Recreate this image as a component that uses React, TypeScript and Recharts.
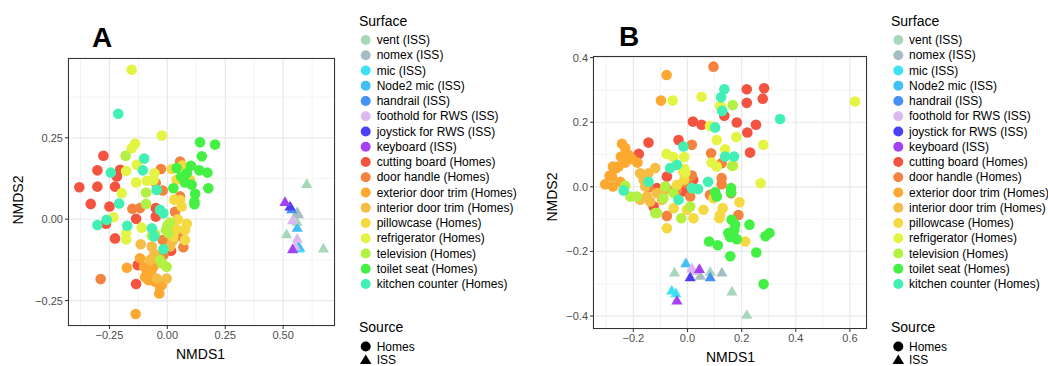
import React from "react"
import { ScatterChart, Scatter, XAxis, YAxis, CartesianGrid } from "recharts"

type Pt = [number, number]

const surfaces = [
  "vent (ISS)",
  "nomex (ISS)",
  "mic (ISS)",
  "Node2 mic (ISS)",
  "handrail (ISS)",
  "foothold for RWS (ISS)",
  "joystick for RWS (ISS)",
  "keyboard (ISS)",
  "cutting board (Homes)",
  "door handle (Homes)",
  "exterior door trim (Homes)",
  "interior door trim (Homes)",
  "pillowcase (Homes)",
  "refrigerator (Homes)",
  "television (Homes)",
  "toilet seat (Homes)",
  "kitchen counter (Homes)",
]

const surfaceColors = [
  "#a8d8bc", "#a5bec4", "#40e0f4", "#42bff4", "#4691f4", "#dbb9f0", "#4a40f4", "#a541f2",
  "#f4543f", "#f4833f", "#fca831", "#f5bd43", "#f5d942", "#e4f444", "#b2f042", "#43f043", "#43f0b3",
]

// source of each surface: ISS surfaces are drawn as triangles
const surfaceSource = surfaces.map((s) => (s.includes("(ISS)") ? "ISS" : "Homes"))

// ---------- panel A ----------
const aVent: Pt[] = [[0.602, 0.106], [0.515, -0.048], [0.674, -0.092], [0.56, -0.01]]
const aNomex: Pt[] = [[0.561, 0.02], [0.566, 0.013]]
const aMic: Pt[] = [[0.566, -0.092], [0.572, -0.09]]
const aNode2: Pt[] = [[0.561, -0.028], [0.566, -0.085]]
const aHandrail: Pt[] = [[0.537, 0.029]]
const aFoothold: Pt[] = [[0.541, -0.005], [0.561, -0.062], [0.553, -0.085]]
const aJoystick: Pt[] = [[0.53, 0.037]]
const aKeyboard: Pt[] = [[0.508, 0.051], [0.541, -0.094]]
const aCutting: Pt[] = [
  [-0.276, 0.195], [-0.302, 0.15], [-0.204, 0.152], [-0.218, 0.131], [-0.38, 0.098], [-0.302, 0.1],
  [-0.226, 0.1], [-0.331, 0.047], [-0.25, 0.039], [-0.05, 0.034], [-0.05, 0.008], [-0.135, 0.001],
  [-0.265, -0.014], [-0.226, -0.059], [0.016, -0.097], [-0.128, -0.141], [-0.135, -0.199],
]
const aDoor: Pt[] = [
  [-0.028, 0.154], [0.055, 0.177], [-0.05, 0.111], [-0.02, 0.088], [-0.151, 0.032], [-0.118, 0.034],
  [0.033, 0.023], [0.055, 0.07], [-0.02, -0.064], [0.062, -0.053], [0.069, -0.086], [-0.017, -0.11],
  [-0.288, -0.184],
]
const aExterior: Pt[] = [
  [-0.118, -0.12], [-0.1, -0.146], [-0.089, -0.166], [-0.06, -0.146], [-0.082, -0.187], [-0.096, -0.178],
  [-0.053, -0.192], [-0.032, -0.207], [-0.035, -0.228], [-0.024, -0.202], [-0.175, -0.149], [-0.137, -0.291],
  [-0.07, -0.16],
]
const aInterior: Pt[] = [
  [-0.067, -0.084], [-0.075, -0.125], [-0.056, -0.107], [0.012, -0.084], [0.023, -0.066], [-0.003, -0.182],
  [-0.046, -0.182], [-0.115, -0.077],
]
const aPillow: Pt[] = [
  [0.065, 0.165], [0.019, 0.154], [0.098, 0.121], [0.04, 0.121], [0.055, 0.059], [0.062, 0.039],
  [0.04, -0.031], [0.084, -0.014], [0.076, -0.033], [0.026, -0.053], [0.076, -0.064], [0.03, 0.06], [0.045, 0.0],
]
const aFridge: Pt[] = [
  [-0.154, 0.459], [-0.024, 0.257], [-0.139, 0.232], [-0.154, 0.218], [-0.178, 0.148], [-0.132, 0.167],
  [-0.197, 0.08], [-0.135, 0.113], [-0.089, 0.118], [-0.056, 0.141], [-0.233, 0.006], [-0.111, -0.026],
  [-0.178, -0.043], [-0.178, -0.062], [-0.06, 0.12],
]
const aTV: Pt[] = [
  [-0.18, 0.195], [-0.092, 0.082], [-0.092, 0.047], [-0.053, -0.046], [-0.006, -0.033], [0.012, -0.01],
  [0.004, -0.043], [-0.032, -0.125], [-0.003, -0.146], [-0.024, -0.135], [-0.067, -0.05], [0.0, -0.02],
]
const aToilet: Pt[] = [
  [0.141, 0.236], [0.206, 0.229], [0.149, 0.193], [0.102, 0.164], [0.04, 0.157], [0.084, 0.141],
  [0.138, 0.15], [0.173, 0.143], [0.076, 0.113], [0.105, 0.106], [0.177, 0.095], [0.12, 0.078],
  [0.117, 0.054], [0.117, 0.046], [0.026, 0.095], [0.06, 0.13],
]
const aKitchen: Pt[] = [
  [-0.212, 0.324], [-0.1, 0.186], [-0.244, 0.143], [-0.106, 0.15], [-0.046, 0.09], [-0.032, 0.029],
  [-0.017, 0.018], [-0.302, -0.018], [-0.262, -0.002], [-0.173, -0.02], [-0.067, -0.028], [-0.057, -0.053],
  [-0.017, -0.092], [-0.208, 0.048],
]

// ---------- panel B ----------
const bVent: Pt[] = [[-0.048, -0.267], [0.084, -0.265], [0.164, -0.326], [0.219, -0.398]]
const bNomex: Pt[] = [[0.047, -0.277], [0.127, -0.267]]
const bMic: Pt[] = [[-0.058, -0.323], [-0.043, -0.331]]
const bNode2: Pt[] = [[-0.006, -0.238]]
const bHandrail: Pt[] = [[0.084, -0.282]]
const bFoothold: Pt[] = [[0.016, -0.254], [0.022, -0.262]]
const bJoystick: Pt[] = [[0.01, -0.282]]
const bKeyboard: Pt[] = [[0.044, -0.256], [-0.039, -0.354]]
const bCutting: Pt[] = [
  [0.219, 0.302], [0.283, 0.305], [0.219, 0.26], [0.278, 0.273], [0.136, 0.22], [0.02, 0.202],
  [0.052, 0.192], [0.182, 0.199], [0.253, 0.192], [0.221, 0.168], [-0.033, 0.145], [-0.144, 0.137],
  [0.231, 0.106], [-0.18, 0.102], [-0.076, 0.032], [0.021, 0.022], [-0.113, -0.004], [-0.125, -0.061],
  [-0.015, -0.014],
]
const bDoor: Pt[] = [
  [0.096, 0.372], [0.016, 0.13], [0.087, 0.104], [0.016, 0.035], [-0.002, 0.016], [0.126, 0.073],
  [0.126, 0.027], [0.126, 0.008], [0.161, -0.02], [0.083, -0.025], [0.188, -0.087], [-0.076, -0.09],
  [-0.144, -0.002], [-0.076, -0.007], [-0.039, -0.009], [0.01, -0.03], [-0.006, 0.013],
]
const bExterior: Pt[] = [
  [-0.077, 0.346], [-0.098, 0.267], [-0.242, 0.133], [-0.23, 0.12], [-0.246, 0.094], [-0.218, 0.099],
  [-0.275, 0.063], [-0.255, 0.063], [-0.23, 0.075], [-0.185, 0.075], [-0.205, 0.086], [-0.288, 0.034],
  [-0.263, 0.058], [-0.279, 0.032], [-0.304, 0.008], [-0.248, 0.016], [-0.275, 0.001],
]
const bInterior: Pt[] = [
  [-0.175, 0.042], [-0.162, 0.022], [-0.144, 0.042], [-0.119, 0.058], [-0.156, 0.001], [-0.15, -0.03],
  [-0.175, -0.04], [-0.138, -0.045], [-0.094, -0.04], [-0.113, -0.019], [-0.089, -0.014],
]
const bPillow: Pt[] = [
  [0.096, -0.035], [0.192, -0.048], [0.13, -0.066], [0.12, -0.087], [0.118, -0.097], [0.213, -0.169],
  [-0.076, -0.128], [-0.051, -0.066], [-0.002, -0.071], [0.022, -0.097], [0.059, -0.071], [-0.039, 0.006],
  [-0.015, 0.047], [-0.012, 0.022],
]
const bFridge: Pt[] = [
  [-0.055, 0.267], [0.052, 0.279], [0.124, 0.248], [0.619, 0.264], [0.083, 0.188], [0.18, 0.154],
  [0.108, 0.145], [0.139, 0.116], [0.28, 0.13], [-0.077, 0.102], [-0.052, 0.092], [-0.012, 0.092],
  [-0.011, 0.055], [-0.008, 0.044], [0.089, 0.075], [0.108, 0.063], [0.169, 0.065], [0.27, 0.011],
  [0.12, 0.25],
]
const bTV: Pt[] = [
  [0.167, 0.253], [-0.023, -0.097], [0.01, -0.061], [-0.113, -0.081], [-0.23, 0.003], [-0.211, -0.03],
  [-0.187, -0.03], [-0.082, 0.001], [-0.089, -0.035], [-0.119, -0.081], [-0.052, -0.019], [0.165, 0.065],
]
const bToilet: Pt[] = [
  [0.161, -0.004], [0.161, -0.017], [0.102, -0.017], [0.108, -0.03], [0.163, -0.102], [0.176, -0.117],
  [0.173, -0.133], [0.229, -0.117], [0.151, -0.143], [0.157, -0.155], [0.182, -0.162], [0.17, -0.153],
  [0.08, -0.169], [0.112, -0.181], [0.303, -0.143], [0.288, -0.153], [0.158, -0.215], [0.254, -0.203],
  [0.281, -0.301],
]
const bKitchen: Pt[] = [
  [0.136, 0.302], [0.124, 0.277], [0.342, 0.21], [0.102, 0.184], [-0.015, 0.125], [0.139, 0.094],
  [0.172, 0.094], [-0.064, 0.058], [-0.039, 0.068], [0.039, -0.007], [0.076, 0.016], [-0.236, -0.011],
  [-0.144, 0.016], [-0.033, -0.04], [0.016, -0.004], [0.128, 0.235],
]

// same order as `surfaces`
const panelA = [aVent, aNomex, aMic, aNode2, aHandrail, aFoothold, aJoystick, aKeyboard,
  aCutting, aDoor, aExterior, aInterior, aPillow, aFridge, aTV, aToilet, aKitchen]
const panelB = [bVent, bNomex, bMic, bNode2, bHandrail, bFoothold, bJoystick, bKeyboard,
  bCutting, bDoor, bExterior, bInterior, bPillow, bFridge, bTV, bToilet, bKitchen]

// axes
const aXTicks = [-0.25, 0, 0.25, 0.5]
const aYTicks = [-0.25, 0, 0.25]
const aXMinor = [-0.375, -0.125, 0.125, 0.375, 0.625]
const aYMinor = [-0.125, 0.125, 0.375]
const bXTicks = [-0.2, 0, 0.2, 0.4, 0.6]
const bYTicks = [-0.4, -0.2, 0, 0.2, 0.4]
const bXMinor = [-0.3, -0.1, 0.1, 0.3, 0.5]
const bYMinor = [-0.3, -0.1, 0.1, 0.3]

const FONT = "'Liberation Sans', Arial, Helvetica, sans-serif"

const fmt = (digits: number) => (v: number) => {
  const s = Math.abs(v).toFixed(digits)
  return v < 0 ? `\u2212${s}` : s
}

function makeShape(color: string, source: string) {
  return (props: any) => {
    const { cx, cy } = props
    if (cx == null || cy == null) return <g />
    if (source === "ISS") {
      return (
        <polygon
          points={`${cx},${cy - 6.3} ${cx - 5.6},${cy + 3.4} ${cx + 5.6},${cy + 3.4}`}
          fill={color}
        />
      )
    }
    return <circle cx={cx} cy={cy} r={5.3} fill={color} />
  }
}

interface PanelProps {
  left: number
  width: number
  margin: { top: number; right: number; bottom: number; left: number }
  points: Pt[][]
  xDomain: [number, number]
  yDomain: [number, number]
  xTicks: number[]
  yTicks: number[]
  xMinor: number[]
  yMinor: number[]
  digits: number
}

function Panel({ left, width, margin, points, xDomain, yDomain, xTicks, yTicks, xMinor, yMinor, digits }: PanelProps) {
  const tickStyle = { fontSize: 11, fill: "#4d4d4d", fontFamily: FONT }
  // ISS points drawn last, like the original
  const order = surfaces.map((_, i) => i).sort((a, b) => (surfaceSource[a] === "ISS" ? 1 : 0) - (surfaceSource[b] === "ISS" ? 1 : 0))
  return (
    <div style={{ position: "absolute", left, top: 0 }}>
      <ScatterChart width={width} height={366} margin={margin}>
        <CartesianGrid stroke="#f3f3f3" strokeWidth={1} horizontalValues={yMinor} verticalValues={xMinor} />
        <CartesianGrid stroke="#e9e9e9" strokeWidth={1.2} />
        <XAxis
          type="number"
          dataKey="x"
          domain={xDomain}
          ticks={xTicks}
          allowDataOverflow
          height={30}
          axisLine={false}
          tickLine={{ stroke: "#333333" }}
          tickSize={3}
          tickMargin={2}
          tick={tickStyle}
          tickFormatter={fmt(digits)}
        />
        <YAxis
          type="number"
          dataKey="y"
          domain={yDomain}
          ticks={yTicks}
          allowDataOverflow
          width={40}
          axisLine={false}
          tickLine={{ stroke: "#333333" }}
          tickSize={3}
          tickMargin={2}
          tick={tickStyle}
          tickFormatter={fmt(digits)}
        />
        {order.map((i) => (
          <Scatter
            key={surfaces[i]}
            name={surfaces[i]}
            data={points[i].map(([x, y]) => ({ x, y }))}
            fill={surfaceColors[i]}
            shape={makeShape(surfaceColors[i], surfaceSource[i])}
            isAnimationActive={false}
          />
        ))}
      </ScatterChart>
      <div
        style={{
          position: "absolute",
          left: margin.left + 40,
          top: margin.top,
          width: width - margin.left - margin.right - 40,
          height: 366 - margin.top - margin.bottom - 30,
          border: "1px solid #333333",
          boxSizing: "border-box",
          pointerEvents: "none",
        }}
      />
    </div>
  )
}

function SurfaceLegend({ left, textX, dotX }: { left: number; textX: number; dotX: number }) {
  return (
    <svg width={190} height={366} style={{ position: "absolute", left, top: 0, fontFamily: FONT }}>
      <text x={9} y={25.5} fontSize={14} fill="#000">Surface</text>
      {surfaces.map((s, i) => {
        const cy = 40 + i * 15.25
        return (
          <g key={s}>
            <circle cx={dotX} cy={cy} r={5} fill={surfaceColors[i]} />
            <text x={textX} y={cy + 4.2} fontSize={12} fill="#000">{s}</text>
          </g>
        )
      })}
      <text x={9} y={332} fontSize={14} fill="#000">Source</text>
      <circle cx={dotX} cy={346.5} r={5} fill="#000" />
      <text x={textX} y={350.7} fontSize={12} fill="#000">Homes</text>
      <polygon points={`${dotX},${354.5} ${dotX - 5.8},${364} ${dotX + 5.8},${364}`} fill="#000" />
      <text x={textX} y={364} fontSize={12} fill="#000">ISS</text>
    </svg>
  )
}

export default function App() {
  const label = { position: "absolute" as const, fontFamily: FONT, color: "#000", lineHeight: 1, whiteSpace: "nowrap" as const }
  return (
    <div style={{ position: "absolute", left: 0, top: 0, width: 1048, height: 366, background: "#fff", overflow: "hidden" }}>
      <Panel
        left={0}
        width={345}
        margin={{ top: 58, right: 10, bottom: 10, left: 28 }}
        points={panelA}
        xDomain={[-0.429, 0.724]}
        yDomain={[-0.328, 0.495]}
        xTicks={aXTicks}
        yTicks={aYTicks}
        xMinor={aXMinor}
        yMinor={aYMinor}
        digits={2}
      />
      <Panel
        left={545}
        width={330}
        margin={{ top: 56, right: 8, bottom: 7, left: 8 }}
        points={panelB}
        xDomain={[-0.349, 0.663]}
        yDomain={[-0.44, 0.405]}
        xTicks={bXTicks}
        yTicks={bYTicks}
        xMinor={bXMinor}
        yMinor={bYMinor}
        digits={1}
      />

      <div style={{ ...label, left: 92, top: 24, fontSize: 28, fontWeight: "bold" }}>A</div>
      <div style={{ ...label, left: 619, top: 23, fontSize: 28, fontWeight: "bold" }}>B</div>

      <div style={{ ...label, left: 176, top: 347, fontSize: 14 }}>NMDS1</div>
      <div style={{ ...label, left: 706, top: 350, fontSize: 14 }}>NMDS1</div>
      <div style={{ ...label, left: -7, top: 193, fontSize: 14, transform: "rotate(-90deg)" }}>NMDS2</div>
      <div style={{ ...label, left: 527, top: 190, fontSize: 14, transform: "rotate(-90deg)" }}>NMDS2</div>

      <SurfaceLegend left={350} dotX={15.7} textX={26.7} />
      <SurfaceLegend left={882} dotX={16.3} textX={27} />
    </div>
  )
}
